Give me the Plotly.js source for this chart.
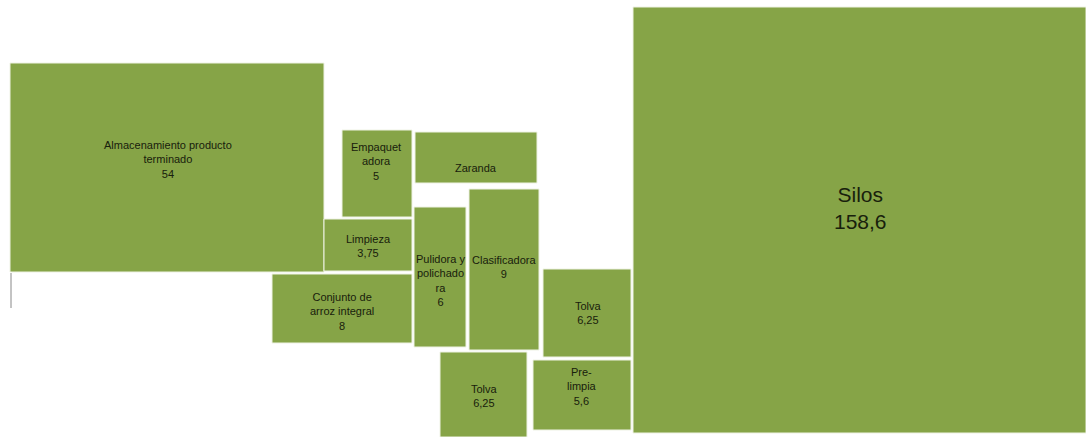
<!DOCTYPE html>
<html>
<head>
<meta charset="utf-8">
<script src="https://cdn.plot.ly/plotly-3.0.1.min.js"></script>
<style>html,body{margin:0;padding:0;background:#fff;}#chart{width:1086px;height:437px;}</style>
</head>
<body>
<div id="chart"></div>
<script>
// ---- data ----
var categories = ["Almacenamiento producto terminado", "Empaquetadora", "Zaranda", "Limpieza",
  "Conjunto de arroz integral", "Pulidora y polichadora", "Clasificadora", "Tolva", "Tolva",
  "Pre-limpia", "Silos"];
var areas = [54, 5, null, 3.75, 8, 6, 9, 6.25, 6.25, 5.6, 158.6];
var labelLines = ["Almacenamiento producto<br>terminado", "Empaquet<br>adora", "Zaranda", "Limpieza",
  "Conjunto de<br>arroz integral", "Pulidora y<br>polichado<br>ra", "Clasificadora", "Tolva", "Tolva",
  "Pre-<br>limpia", "Silos"];

// ---- layout (block positions in the floor plan, pixels) ----
var boxes = [
  [10, 63, 324, 272], [342, 130, 412, 217], [415, 132, 537, 183], [324, 219, 412, 271],
  [272, 274, 412, 343], [414, 207, 466, 347], [469, 189, 539, 350], [543, 269, 631, 357],
  [440, 352, 527, 437], [533, 360, 631, 430], [633, 7, 1086, 433]
];
var labelPos = [
  [168, 159], [376, 161], [476, 168], [368, 246], [342, 311], [440, 280], [504, 267],
  [588, 313], [484, 396], [582, 386], [860, 208]
];
var labelSize = [11, 11, 11, 11, 11, 11, 11, 11, 11, 11, 21];

var GREEN = "#86a447";
var traces = [];
var annotations = [];
for (var i = 0; i < categories.length; i++) {
  var b = boxes[i];
  traces.push({
    type: "scatter", mode: "lines",
    x: [b[0], b[2], b[2], b[0], b[0]],
    y: [b[1], b[1], b[3], b[3], b[1]],
    fill: "toself", fillcolor: GREEN,
    line: {color: "#eef2e4", width: 1},
    hoverinfo: "text", text: categories[i] + (areas[i] != null ? ": " + areas[i] : ""),
    showlegend: false
  });
  var txt = labelLines[i];
  if (areas[i] != null) txt += "<br>" + String(areas[i]).replace(".", ",");
  annotations.push({
    x: labelPos[i][0], y: labelPos[i][1], xref: "x", yref: "y",
    text: txt, showarrow: false, align: "center",
    font: {family: "Liberation Sans, Arial, sans-serif", size: labelSize[i], color: "#18200c"}
  });
}
// thin grey mark under the storage block
traces.push({type: "scatter", mode: "lines", x: [11, 11], y: [273, 308],
  line: {color: "#888", width: 1}, hoverinfo: "skip", showlegend: false});

var layout = {
  width: 1086, height: 437,
  margin: {l: 0, r: 0, t: 0, b: 0},
  paper_bgcolor: "#fff", plot_bgcolor: "#fff",
  xaxis: {range: [0, 1086], visible: false, fixedrange: true},
  yaxis: {range: [437, 0], visible: false, fixedrange: true},
  annotations: annotations
};
Plotly.newPlot("chart", traces, layout, {displayModeBar: false, staticPlot: true});
</script>
</body>
</html>
